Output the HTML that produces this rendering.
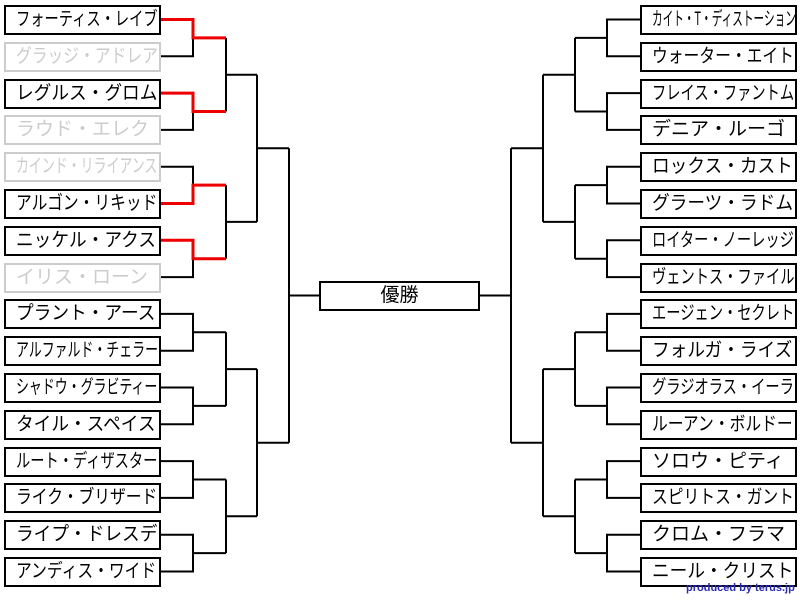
<!DOCTYPE html>
<html><head><meta charset="utf-8"><style>
body{margin:0;width:800px;height:600px;background:#fff;position:relative;overflow:hidden;font-family:"Liberation Sans","Noto Sans CJK JP",sans-serif}
.b{position:absolute;width:157px;height:30px;box-sizing:border-box;border:2px solid #000;background:#fff;font-size:19px;line-height:26px;padding-left:10px;white-space:nowrap;overflow:hidden;color:#000}
.g{border-color:#ccc;color:#ccc}
.b span{display:inline-block;transform-origin:left center}
svg{position:absolute;left:0;top:0}
</style></head><body>
<svg width="800" height="600" fill="none" stroke="#000" stroke-width="2">
<path d="M161 19.5H193V56.3H161M193 37.9H226M161 93.1H193V129.9H161M193 111.5H226M161 166.7H193V203.5H161M193 185.1H226M161 240.3H193V277.1H161M193 258.7H226M161 313.9H193V350.7H161M193 332.3H226M161 387.5H193V424.3H161M193 405.9H226M161 461.1H193V497.9H161M193 479.5H226M161 534.7H193V571.5H161M193 553.1H226
M226 37.9V111.5M226 74.7H257M226 185.1V258.7M226 221.9H257M226 332.3V405.9M226 369.1H257M226 479.5V553.1M226 516.3H257
M257 74.7V221.9M257 148.3H289M257 369.1V516.3M257 442.7H289M289 148.3V442.7M289 295.5H319"/>
<path d="M640 19.5H607V56.3H640M607 37.9H575M640 93.1H607V129.9H640M607 111.5H575M640 166.7H607V203.5H640M607 185.1H575M640 240.3H607V277.1H640M607 258.7H575M640 313.9H607V350.7H640M607 332.3H575M640 387.5H607V424.3H640M607 405.9H575M640 461.1H607V497.9H640M607 479.5H575M640 534.7H607V571.5H640M607 553.1H575
M575 37.9V111.5M575 74.7H543M575 185.1V258.7M575 221.9H543M575 332.3V405.9M575 369.1H543M575 479.5V553.1M575 516.3H543
M543 74.7V221.9M543 148.3H511M543 369.1V516.3M543 442.7H511M511 148.3V442.7M511 295.5H480"/>
<path stroke="#e00" stroke-width="3" d="M161 19.5H193V37.9H226M161 93.1H193V111.5H226M161 203.5H193V185.1H226M161 240.3H193V258.7H226"/>
</svg>
<div class="b" style="left:4px;top:5px"><span style="transform:scaleX(.75)">フォーティス・レイブ</span></div>
<div class="b g" style="left:4px;top:41.8px"><span style="transform:scaleX(.83)">グラッジ・アドレア</span></div>
<div class="b" style="left:4px;top:78.6px"><span style="transform:scaleX(.93)">レグルス・グロム</span></div>
<div class="b g" style="left:4px;top:115.4px"><span>ラウド・エレク</span></div>
<div class="b g" style="left:4px;top:152.2px"><span style="transform:scaleX(.68)">カインド・リライアンス</span></div>
<div class="b" style="left:4px;top:189px"><span style="transform:scaleX(.83)">アルゴン・リキッド</span></div>
<div class="b" style="left:4px;top:225.8px"><span style="transform:scaleX(.93)">ニッケル・アクス</span></div>
<div class="b g" style="left:4px;top:262.6px"><span>イリス・ローン</span></div>
<div class="b" style="left:4px;top:299.4px"><span style="transform:scaleX(.93)">プラント・アース</span></div>
<div class="b" style="left:4px;top:336.2px"><span style="transform:scaleX(.68)">アルファルド・チェラー</span></div>
<div class="b" style="left:4px;top:373px"><span style="transform:scaleX(.68)">シャドウ・グラビティー</span></div>
<div class="b" style="left:4px;top:409.8px"><span style="transform:scaleX(.93)">タイル・スペイス</span></div>
<div class="b" style="left:4px;top:446.6px"><span style="transform:scaleX(.75)">ルート・ディザスター</span></div>
<div class="b" style="left:4px;top:483.4px"><span style="transform:scaleX(.83)">ライク・ブリザード</span></div>
<div class="b" style="left:4px;top:520.2px"><span style="transform:scaleX(.93)">ライプ・ドレスデ</span></div>
<div class="b" style="left:4px;top:557px"><span style="transform:scaleX(.83)">アンディス・ワイド</span></div>

<div class="b" style="left:640px;top:5px"><span style="transform:scaleX(.56)">カイト・T・ディストーション</span></div>
<div class="b" style="left:640px;top:41.8px"><span style="transform:scaleX(.83)">ウォーター・エイト</span></div>
<div class="b" style="left:640px;top:78.6px"><span style="transform:scaleX(.75)">フレイス・ファントム</span></div>
<div class="b" style="left:640px;top:115.4px"><span>デニア・ルーゴ</span></div>
<div class="b" style="left:640px;top:152.2px"><span style="transform:scaleX(.93)">ロックス・カスト</span></div>
<div class="b" style="left:640px;top:189px"><span style="transform:scaleX(.93)">グラーツ・ラドム</span></div>
<div class="b" style="left:640px;top:225.8px"><span style="transform:scaleX(.75)">ロイター・ノーレッジ</span></div>
<div class="b" style="left:640px;top:262.6px"><span style="transform:scaleX(.75)">ヴェントス・ファイル</span></div>
<div class="b" style="left:640px;top:299.4px"><span style="transform:scaleX(.75)">エージェン・セクレト</span></div>
<div class="b" style="left:640px;top:336.2px"><span style="transform:scaleX(.93)">フォルガ・ライズ</span></div>
<div class="b" style="left:640px;top:373px"><span style="transform:scaleX(.75)">グラジオラス・イーラ</span></div>
<div class="b" style="left:640px;top:409.8px"><span style="transform:scaleX(.83)">ルーアン・ボルドー</span></div>
<div class="b" style="left:640px;top:446.6px"><span>ソロウ・ピティ</span></div>
<div class="b" style="left:640px;top:483.4px"><span style="transform:scaleX(.83)">スピリトス・ガント</span></div>
<div class="b" style="left:640px;top:520.2px"><span>クロム・フラマ</span></div>
<div class="b" style="left:640px;top:557px"><span style="transform:scaleX(.93)">ニール・クリスト</span></div>

<div class="b" style="left:319px;top:281px;width:161px;padding:0;text-align:center">優勝</div>
<div style="position:absolute;left:686px;top:582px;font-size:11px;font-weight:bold;color:#2a2ab8">produced by terus.jp</div>
</body></html>
